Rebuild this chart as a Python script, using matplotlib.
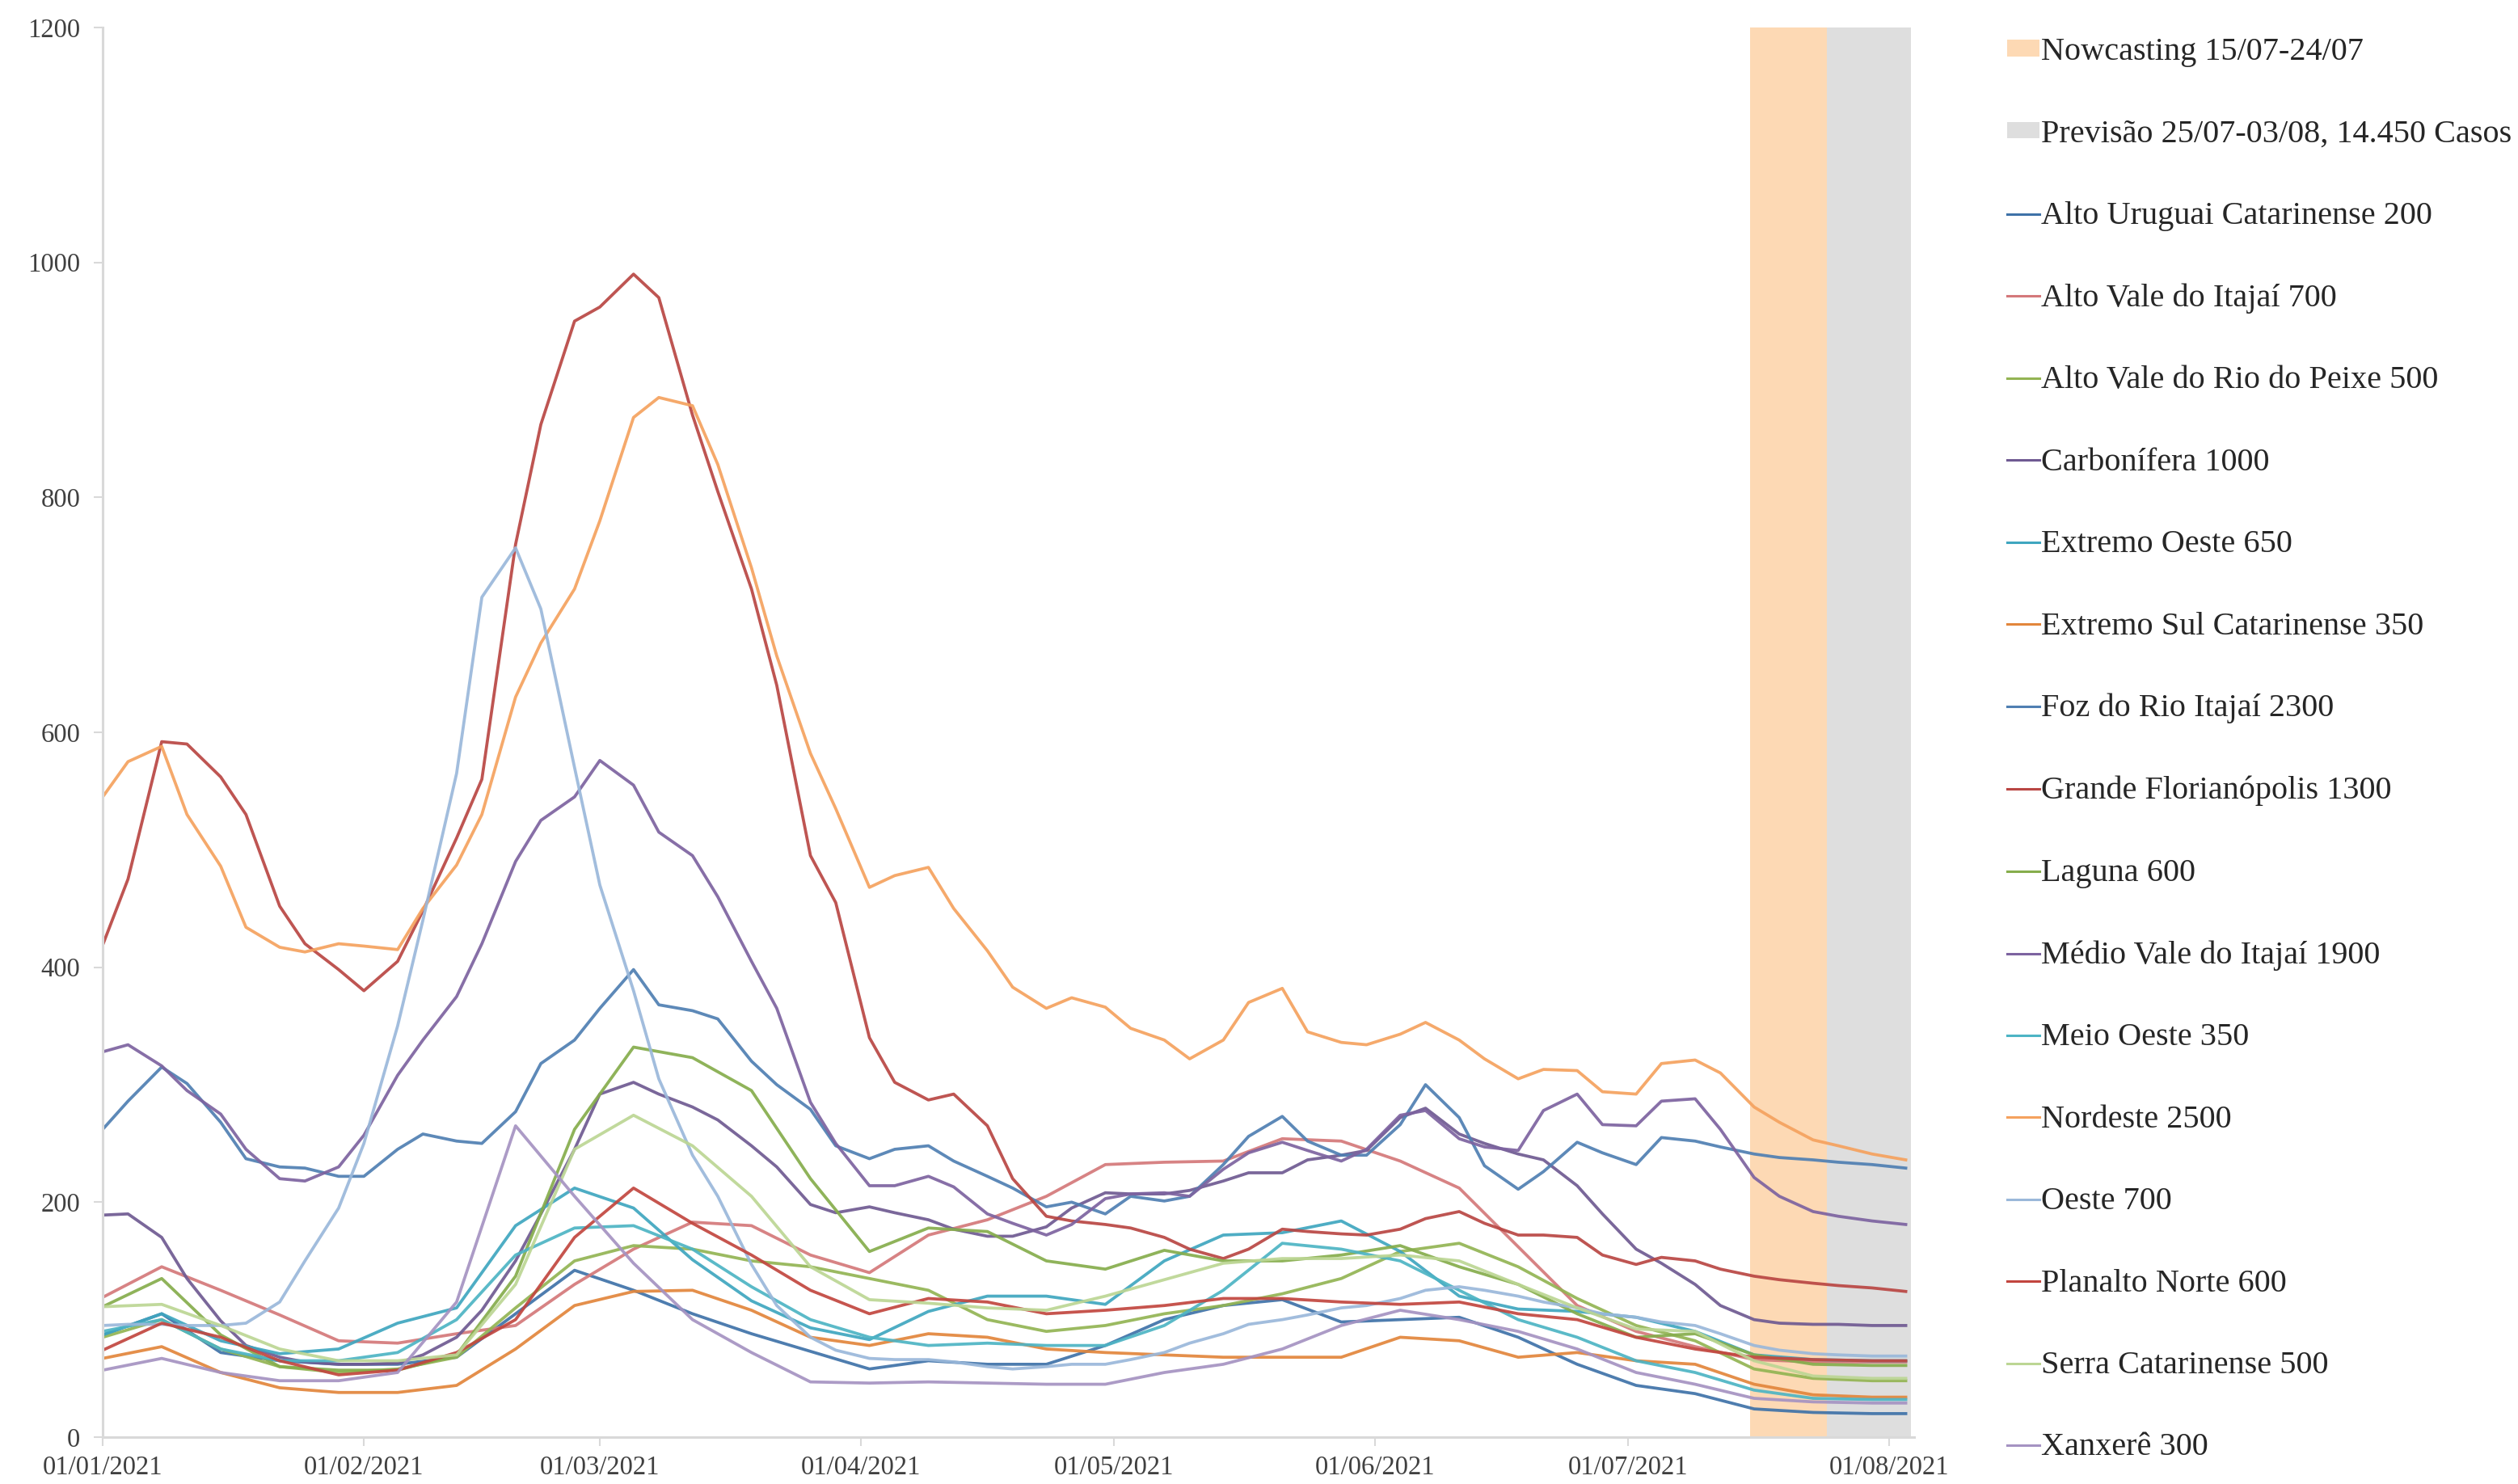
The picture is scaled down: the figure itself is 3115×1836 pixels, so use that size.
import matplotlib
matplotlib.use('Agg')
import matplotlib.pyplot as plt
import matplotlib.dates as mdates
from matplotlib.patches import Patch
from matplotlib.lines import Line2D
import pandas as pd

plt.rcParams['font.family'] = ['Liberation Serif', 'DejaVu Serif']

start = pd.Timestamp('2021-01-01')

days_weekly = [0, 7, 14, 21, 28, 35, 42, 49, 56, 63, 70, 77, 84, 91, 98, 105,
               112, 119, 126, 133, 140, 147, 154, 161, 168, 175, 182, 189, 196, 203, 210, 214]
days_fine = [0, 3, 7, 10, 14, 17, 21, 24, 28, 31, 35, 38, 42, 45, 49, 52, 56, 59, 63, 66,
             70, 73, 77, 80, 84, 87, 91, 94, 98, 101, 105, 108, 112, 115, 119, 122, 126, 129,
             133, 136, 140, 143, 147, 150, 154, 157, 161, 164, 168, 171, 175, 178, 182, 185,
             189, 192, 196, 199, 203, 206, 210, 214]

# regions read weekly
alto_uruguai = [87, 105, 72, 65, 62, 62, 68, 105, 142, 125, 105, 88, 73, 58, 65, 62,
                62, 78, 100, 112, 117, 98, 100, 102, 85, 62, 44, 37, 24, 21, 20, 20]
alto_vale_itajai = [119, 145, 125, 104, 82, 80, 88, 95, 130, 160, 183, 180, 155, 140, 172, 185,
                    205, 232, 234, 235, 254, 252, 235, 212, 162, 112, 90, 77, 66, 64, 64, 64]
alto_vale_peixe = [85, 100, 75, 60, 55, 58, 68, 110, 150, 163, 160, 150, 145, 135, 125, 100,
                   90, 95, 105, 112, 122, 135, 158, 165, 145, 118, 95, 82, 58, 50, 48, 48]
extremo_oeste = [87, 105, 82, 71, 75, 97, 110, 180, 212, 195, 151, 116, 93, 83, 107, 120,
                 120, 113, 150, 172, 174, 184, 158, 120, 109, 107, 102, 90, 70, 66, 65, 65]
extremo_sul = [67, 77, 55, 42, 38, 38, 44, 75, 112, 124, 125, 108, 85, 78, 88, 85,
               75, 72, 70, 68, 68, 68, 85, 82, 68, 72, 65, 62, 45, 36, 34, 34]
laguna = [111, 135, 87, 60, 57, 57, 70, 137, 262, 332, 323, 295, 220, 158, 178, 175,
          150, 143, 159, 150, 150, 155, 163, 145, 130, 105, 85, 88, 70, 62, 61, 61]
meio_oeste = [90, 100, 75, 65, 65, 72, 100, 155, 178, 180, 160, 128, 100, 85, 78, 80,
              78, 78, 95, 125, 165, 160, 150, 125, 100, 85, 65, 55, 40, 33, 32, 32]
planalto_norte = [74, 97, 85, 65, 53, 57, 72, 100, 170, 212, 182, 155, 125, 105, 118, 115,
                  105, 108, 112, 118, 118, 115, 113, 115, 105, 100, 85, 75, 68, 66, 65, 65]
serra = [111, 113, 95, 75, 65, 65, 70, 130, 245, 274, 248, 205, 145, 117, 114, 110,
         108, 120, 134, 148, 152, 152, 155, 150, 130, 110, 92, 90, 65, 52, 50, 50]
xanxere = [57, 67, 55, 48, 48, 55, 115, 265, 205, 148, 100, 72, 47, 46, 47, 46,
           45, 45, 55, 62, 75, 95, 108, 100, 90, 75, 55, 45, 33, 30, 29, 29]

# larger regions read every 3-4 days
carbonifera = [189, 190, 170, 135, 99, 78, 68, 64, 62, 62, 63, 70, 85, 108, 150, 190, 245, 292, 302, 292,
               281, 270, 248, 230, 198, 191, 196, 191, 185, 177, 171, 171, 179, 195, 208, 207, 207, 210,
               218, 225, 225, 236, 240, 244, 272, 280, 258, 250, 241, 236, 214, 190, 160, 148,
               130, 112, 100, 97, 96, 96, 95, 95]
foz_itajai = [262, 286, 315, 301, 268, 237, 230, 229, 222, 222, 245, 258, 252, 250, 277, 318, 338, 365, 398, 368,
              363, 356, 320, 300, 279, 248, 237, 245, 248, 235, 222, 212, 196, 200, 190, 205, 201, 205,
              232, 256, 273, 252, 240, 240, 266, 300, 272, 231, 211, 226, 251, 242, 232, 255,
              252, 247, 241, 238, 236, 234, 232, 229]
grande_floripa = [419, 475, 592, 590, 562, 530, 452, 420, 398, 380, 405, 448, 510, 560, 760, 862, 950, 962, 990, 970,
                  870, 805, 722, 640, 495, 455, 340, 302, 287, 292, 265, 220, 188, 184, 181, 178, 170, 160,
                  152, 160, 177, 175, 173, 172, 177, 186, 192, 182, 172, 172, 170, 155, 147, 153,
                  150, 143, 137, 134, 131, 129, 127, 124]
medio_vale = [328, 334, 316, 295, 275, 245, 220, 218, 230, 257, 308, 338, 375, 420, 490, 525, 545, 576, 555, 515,
              495, 460, 405, 365, 285, 250, 214, 214, 222, 213, 190, 182, 172, 181, 203, 207, 208, 205,
              228, 242, 251, 244, 235, 245, 274, 278, 254, 247, 244, 278, 292, 266, 265, 286,
              288, 262, 221, 205, 192, 188, 184, 181]
nordeste = [545, 575, 588, 530, 486, 434, 417, 413, 420, 418, 415, 450, 487, 530, 630, 676, 722, 780, 868, 885,
            878, 828, 740, 665, 582, 535, 468, 478, 485, 450, 414, 383, 365, 374, 366, 348, 338, 322,
            338, 370, 382, 345, 336, 334, 343, 353, 338, 322, 305, 313, 312, 294, 292, 318,
            321, 310, 281, 268, 253, 248, 241, 236]
oeste = [95, 96, 96, 95, 95, 97, 115, 150, 195, 250, 350, 440, 565, 715, 757, 705, 570, 470, 380, 305,
         240, 205, 147, 112, 85, 74, 67, 66, 66, 64, 60, 58, 60, 62, 62, 66, 72, 80,
         88, 96, 100, 104, 110, 112, 118, 125, 128, 125, 120, 115, 110, 105, 102, 98,
         95, 88, 78, 74, 71, 70, 69, 69]

labels = ['Alto Uruguai Catarinense 200', 'Alto Vale do Itajaí 700',
          'Alto Vale do Rio do Peixe 500', 'Carbonífera 1000', 'Extremo Oeste 650',
          'Extremo Sul Catarinense 350', 'Foz do Rio Itajaí 2300',
          'Grande Florianópolis 1300', 'Laguna 600', 'Médio Vale do Itajaí 1900',
          'Meio Oeste 350', 'Nordeste 2500', 'Oeste 700', 'Planalto Norte 600',
          'Serra Catarinense 500', 'Xanxerê 300']
series = [alto_uruguai, alto_vale_itajai, alto_vale_peixe, carbonifera, extremo_oeste,
          extremo_sul, foz_itajai, grande_floripa, laguna, medio_vale, meio_oeste,
          nordeste, oeste, planalto_norte, serra, xanxere]
colors = ['#3f72a8', '#d4787a', '#93b453', '#6f5a92', '#3fa6bf', '#e2863c',
          '#4f7fb2', '#b94643', '#86ad4c', '#7d63a0', '#4db4c4', '#f5a25e',
          '#9ab8da', '#c2463f', '#bcd694', '#a593c2']

dates_weekly = start + pd.to_timedelta(days_weekly, unit='D')
dates_fine = start + pd.to_timedelta(days_fine, unit='D')

fig = plt.figure(figsize=(31.15, 18.36), dpi=100)
ax = fig.add_axes([0.0408, 0.0316, 0.7194, 0.9499])

ax.axvspan(pd.Timestamp('2021-07-15 12:00'), pd.Timestamp('2021-07-24 16:00'),
           color='#fdd9b4', lw=0, zorder=0)
ax.axvspan(pd.Timestamp('2021-07-24 16:00'), pd.Timestamp('2021-08-03 14:00'),
           color='#dedede', lw=0, zorder=0)

for vals, col in zip(series, colors):
    x = dates_fine if len(vals) == len(days_fine) else dates_weekly
    ax.plot(x, vals, color=col, lw=2.7, alpha=0.92, solid_joinstyle='round', zorder=2)

ax.set_xlim(start, pd.Timestamp('2021-08-04'))
ax.set_ylim(0, 1200)
ax.set_yticks(range(0, 1201, 200))
ax.xaxis.set_major_locator(mdates.MonthLocator())
ax.xaxis.set_major_formatter(mdates.DateFormatter('%d/%m/%Y'))

for s in ['top', 'right']:
    ax.spines[s].set_visible(False)
for s in ['left', 'bottom']:
    ax.spines[s].set_color('#d9d9d9')
    ax.spines[s].set_linewidth(2.2)

ax.tick_params(axis='x', length=8, width=1.5, color='#d9d9d9', pad=8,
               labelsize=23.5, labelcolor='#404040')
ax.tick_params(axis='y', length=8, width=1.5, color='#d9d9d9', pad=12,
               labelsize=23.5, labelcolor='#404040')

handles = [Patch(facecolor='#fdd9b4', edgecolor='none', label='Nowcasting 15/07-24/07'),
           Patch(facecolor='#dedede', edgecolor='none', label='Previsão 25/07-03/08, 14.450 Casos')]
handles += [Line2D([], [], color=c, lw=2.2, label=l) for c, l in zip(colors, labels)]

fig.legend(handles=handles, loc='upper left', bbox_to_anchor=(0.797, 0.975),
           frameon=False, fontsize=29, handlelength=1.0, handleheight=0.4,
           handletextpad=0.05, labelspacing=1.60, borderaxespad=0, borderpad=0,
           labelcolor='#262626')

fig.savefig('out.png', dpi=100)
